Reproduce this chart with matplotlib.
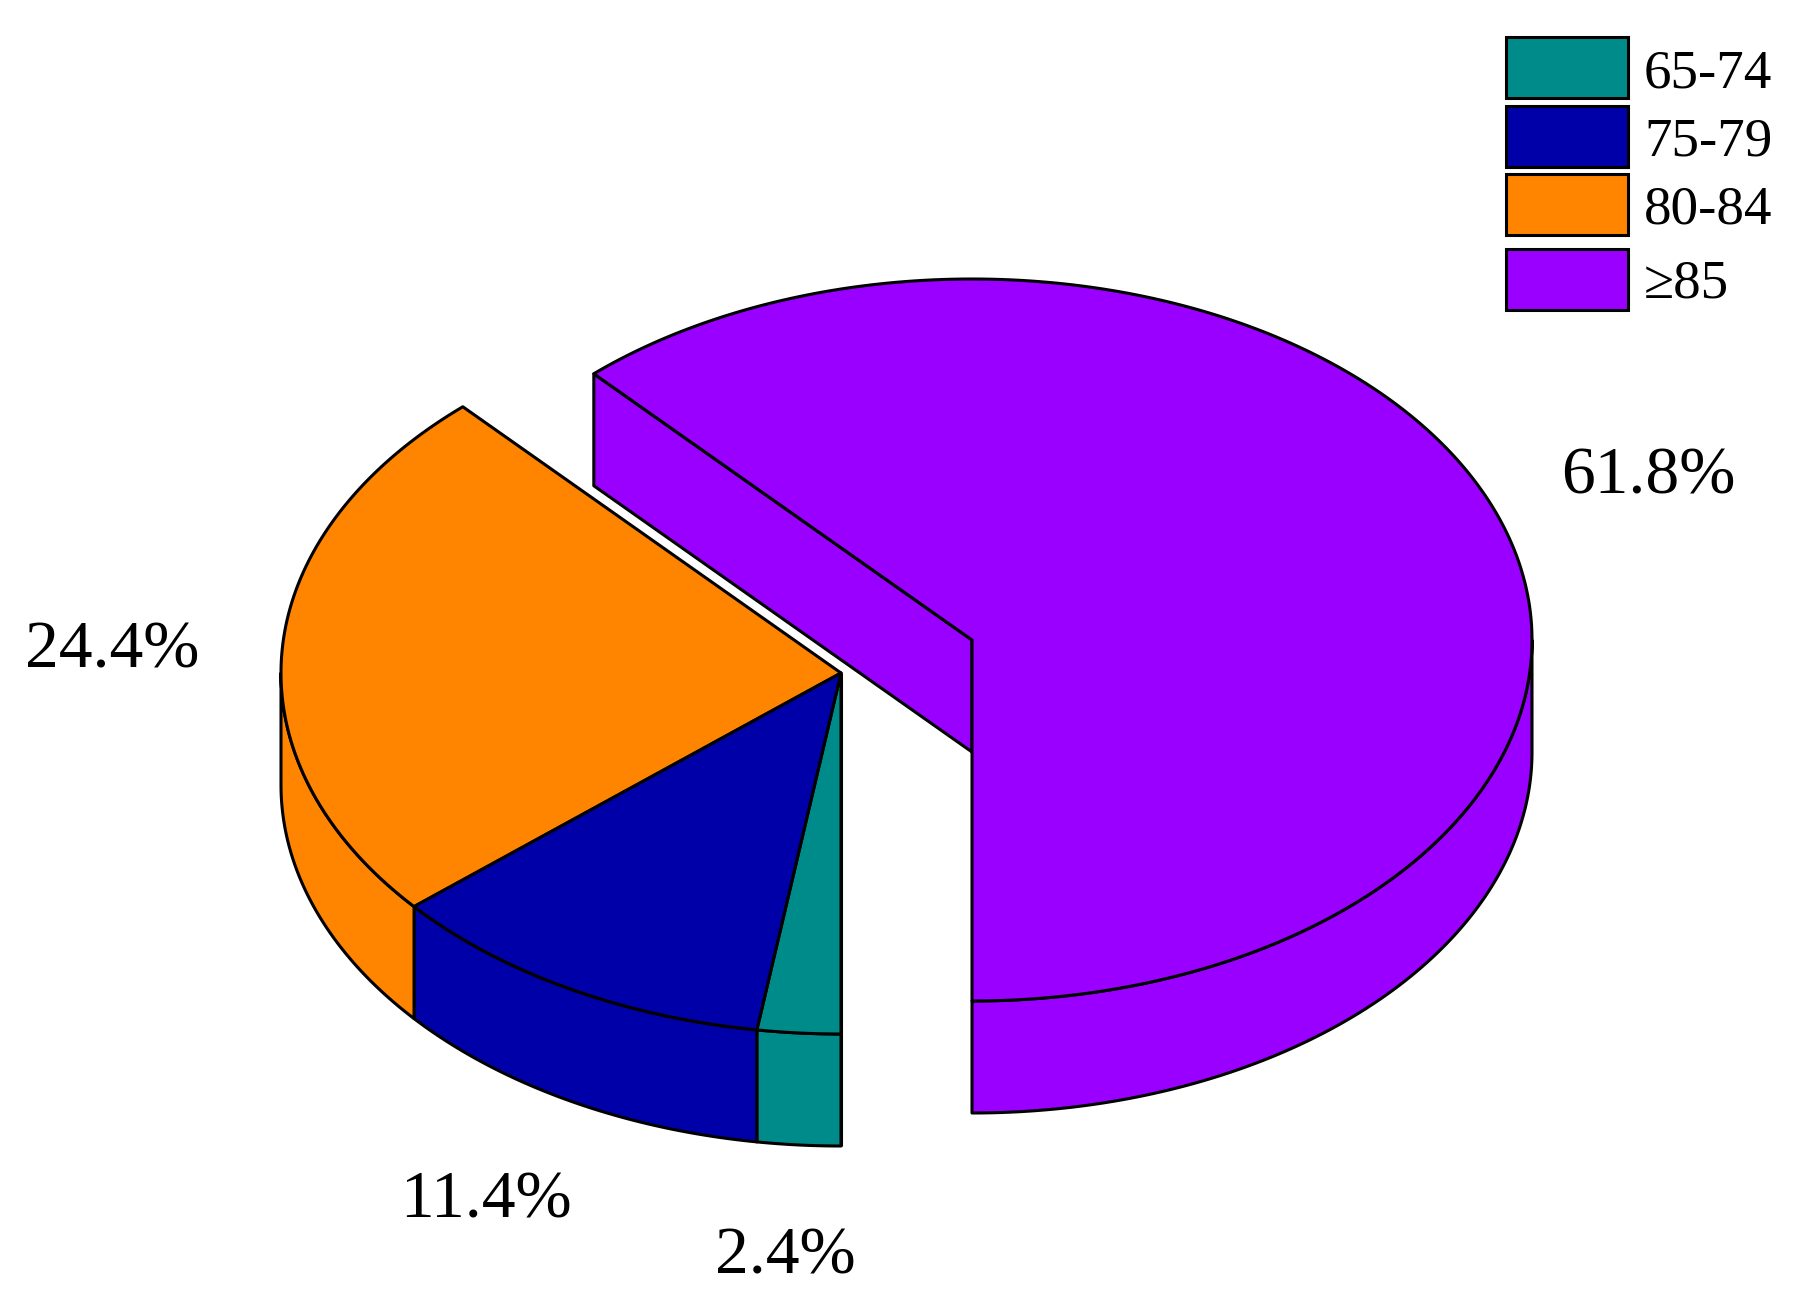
import numpy as np
import matplotlib
matplotlib.use("Agg")
import matplotlib.pyplot as plt
from matplotlib.patches import Rectangle

# age groups, in the order they go round the pie
groups = ["65-74", "75-79", "80-84", "≥85"]
shares = [2.4, 11.4, 24.4, 61.8]
share_labels = ["2.4%", "11.4%", "24.4%", "61.8%"]
colors = ["#008B8B", "#0000A8", "#FF8400", "#9900FF"]

plt.rcParams['font.family'] = ['Liberation Serif', 'DejaVu Serif']

W, H = 1798, 1314
fig = plt.figure(figsize=(W / 100, H / 100), dpi=100)
ax = fig.add_axes([0, 0, 1, 1])
ax.set_xlim(0, W)
ax.set_ylim(H, 0)
ax.axis("off")

# pie geometry in pixels
RX, RY = 560, 361
DEPTH = 112
LW = 2.2
centers = {"main": (841, 673), "exploded": (972, 640)}


def arc(cx, cy, a0, a1, dy=0):
    t = np.radians(np.linspace(a0, a1, max(int(abs(a1 - a0) * 2), 2)))
    return cx + RX * np.cos(t), cy - RY * np.sin(t) + dy


def draw(xs, ys, color, z):
    ax.fill(xs, ys, facecolor=color, edgecolor="black", linewidth=LW,
            joinstyle="round", zorder=z)


# slices run clockwise from straight down, the last one is pulled out
ends = np.cumsum(shares) / 100 * 360
starts = ends - np.array(shares) / 100 * 360
for i in range(len(groups)):
    a1 = 270 - starts[i]
    a0 = 270 - ends[i]
    cx, cy = centers["exploded"] if i == len(groups) - 1 else centers["main"]

    # front wall: only the part of the rim that faces the viewer
    fronts = [(max(a0, 180), min(a1, 360))]
    if a0 < 0:
        fronts = [(a0, min(a1, 0))]
    for b0, b1 in fronts:
        if b1 > b0:
            tx, ty = arc(cx, cy, b0, b1)
            bx, by = arc(cx, cy, b0, b1, DEPTH)
            draw(np.r_[tx, bx[::-1]], np.r_[ty, by[::-1]], colors[i], 2)

    # cut faces
    if i == len(groups) - 1:
        ex, ey = arc(cx, cy, a1, a1)
        draw([cx, ex[0], ex[0], cx], [cy, ey[0], ey[0] + DEPTH, cy + DEPTH], colors[i], 2)
    if i == 0:
        ex, ey = arc(cx, cy, a1, a1)
        draw([cx, ex[0]], [cy, ey[0] + DEPTH], colors[i], 1)

    # top face
    tx, ty = arc(cx, cy, a0, a1)
    draw(np.r_[cx, tx], np.r_[cy, ty], colors[i], 3 + (i == 1))

# share labels
label_pos = [(715, 1273), (400, 1217), (25, 667), (1561, 494)]
for txt, (x, y) in zip(share_labels, label_pos):
    ax.text(x, y, txt, fontsize=48.6, ha="left", va="baseline", color="black")

# legend, last row sits a little lower
box_tops = [37, 106, 174, 249]
text_base = [87, 156, 223, 298]
for g, c, top, base in zip(groups, colors, box_tops, text_base):
    ax.add_patch(Rectangle((1506, top), 122, 61, facecolor=c, edgecolor="black",
                           linewidth=LW, zorder=5))
    ax.text(1644, base, g, fontsize=39.6, ha="left", va="baseline", color="black")

fig.savefig("out.png", dpi=100, facecolor="white")
